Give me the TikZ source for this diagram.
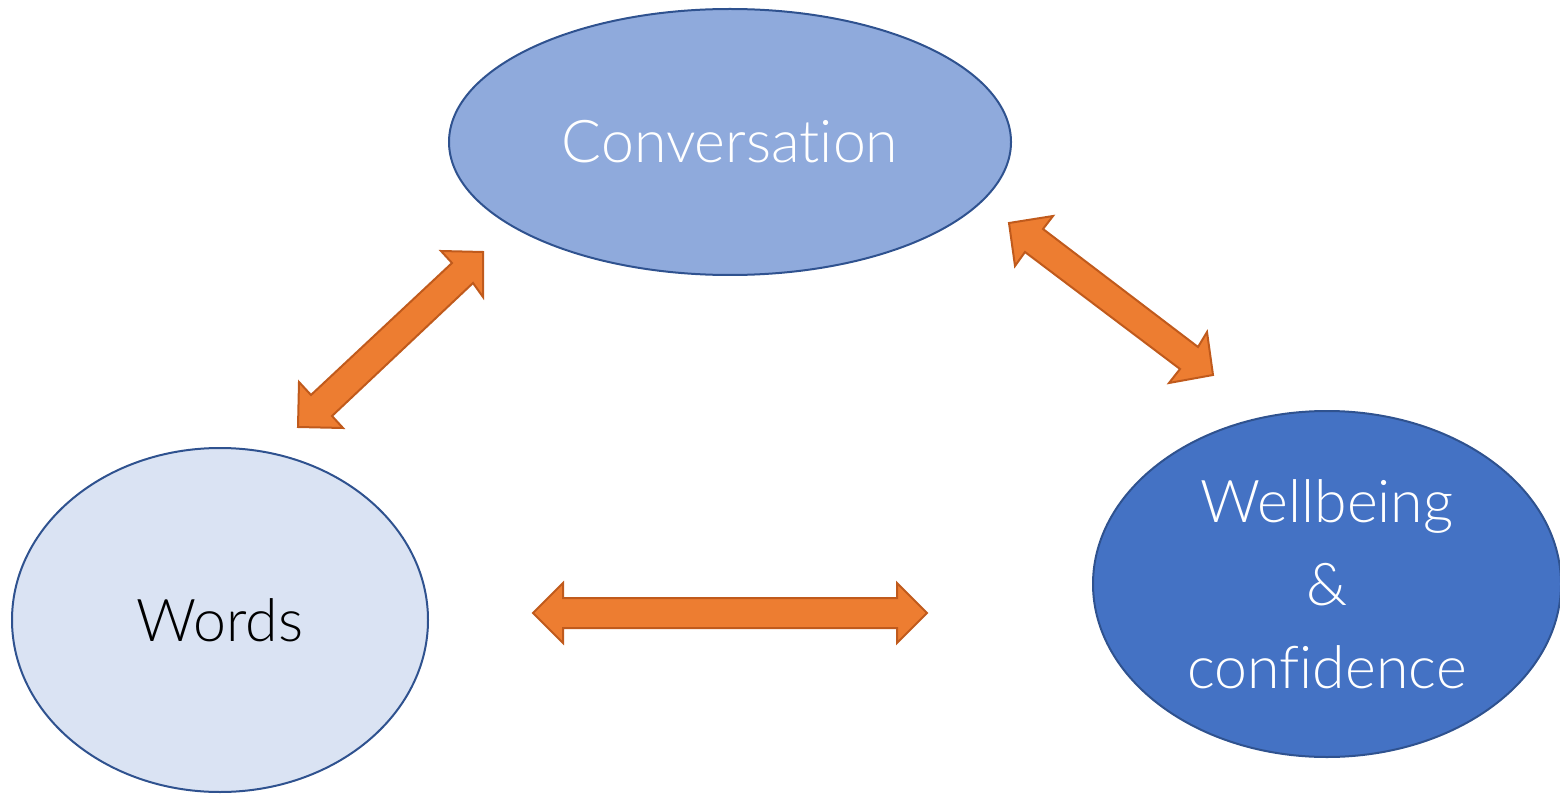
\documentclass[tikz,border=0pt]{standalone}
\usepackage{fontspec}
\setmainfont{Lato Light}[Ligatures=NoCommon]
\usetikzlibrary{shapes.geometric}
\definecolor{convfill}{HTML}{8FAADC}
\definecolor{wordfill}{HTML}{DAE3F3}
\definecolor{wellfill}{HTML}{4472C4}
\definecolor{ellline}{HTML}{2F528F}
\definecolor{arrfill}{HTML}{ED7D31}
\definecolor{arrline}{HTML}{C05A1C}
\tikzset{
  bubble/.style={ellipse, draw=ellline, line width=2pt, inner sep=0pt, align=center,
    font=\fontsize{59}{83}\selectfont},
  blockarrow/.style={fill=arrfill, draw=arrline, line width=2pt, line join=miter}
}
\begin{document}
\begin{tikzpicture}[x=1pt,y=-1pt]
\useasboundingbox (0,0) rectangle (1560,794);
\node[bubble, fill=convfill, text=white, minimum width=562pt, minimum height=266pt] (conv) at (730,142) {Conversation};
\node[bubble, fill=wordfill, text=black, minimum width=416pt, minimum height=344pt] (words) at (220,620) {Words};
\node[bubble, fill=wellfill, text=white, minimum width=468pt, minimum height=346pt] (well) at (1327,584) {Wellbeing\\\&\\confidence};
% block arrows
\draw[blockarrow] (298,427) -- (299,382) -- (311,395) -- (452,263) -- (441,251) -- (483,252)
  -- (483,297) -- (473,283) -- (332,416) -- (343,428) -- cycle;
\draw[blockarrow] (1009,223) -- (1053,216) -- (1043,229) -- (1198,347) -- (1207,332) -- (1213,375)
  -- (1169,383) -- (1180,369) -- (1025,252) -- (1015,266) -- cycle;
\draw[blockarrow] (533,613) -- (563,583) -- (563,598) -- (897,598) -- (897,583) -- (927,613)
  -- (897,643) -- (897,628) -- (563,628) -- (563,643) -- cycle;
\end{tikzpicture}
\end{document}
